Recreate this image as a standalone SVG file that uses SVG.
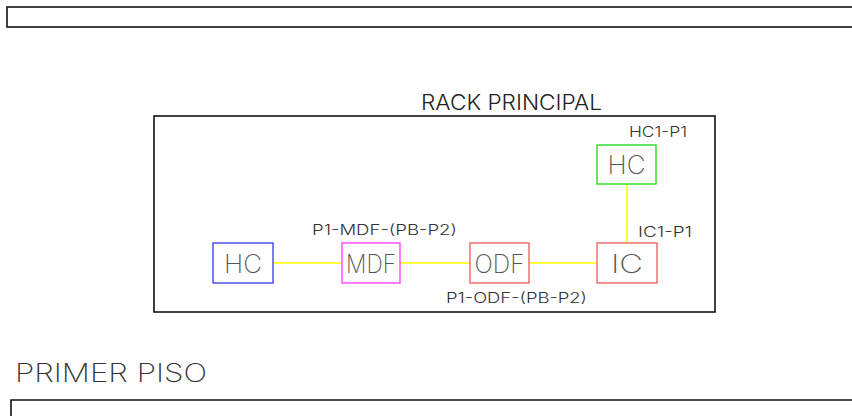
<svg xmlns="http://www.w3.org/2000/svg" width="852" height="416" viewBox="0 0 852 416">
  <style>
    .frame { fill: none; stroke: #111; stroke-width: 1.6; }
    .node { fill: #fff; stroke-width: 1.4; }
    .wire { stroke: #ffff00; stroke-width: 1.6; fill: none; }
    .big { font-family: Inter, "DejaVu Sans", "Liberation Sans", sans-serif; font-weight: 200; font-size: 26px; fill: #555; }
    .tag { font-family: Inter, "DejaVu Sans", "Liberation Sans", sans-serif; font-weight: 300; font-size: 14px; fill: #333; }
    .title { font-family: Inter, "DejaVu Sans", "Liberation Sans", sans-serif; font-weight: 300; font-size: 21px; fill: #222; }
  </style>
  <rect width="852" height="416" fill="#fff"/>

  <!-- sheet frames -->
  <rect class="frame" x="7" y="7" width="860" height="20"/>
  <path class="frame" d="M11 420 V400 H860"/>

  <!-- rack enclosure -->
  <g id="rack">
    <rect class="frame" x="154" y="116" width="561" height="196" stroke-width="1.4"/>
    <text class="title" x="421" y="110" textLength="181" lengthAdjust="spacingAndGlyphs">RACK PRINCIPAL</text>
  </g>

  <!-- connectors -->
  <g id="connectors">
    <line class="wire" x1="273" y1="263" x2="342" y2="263"/>
    <line class="wire" x1="400" y1="263" x2="470" y2="263"/>
    <line class="wire" x1="529" y1="263" x2="597" y2="263"/>
    <line class="wire" x1="627" y1="184" x2="627" y2="243"/>
  </g>

  <g id="hc-floor">
    <rect class="node" x="213" y="243" width="60" height="40" stroke="#4444ee"/>
    <text class="big" x="243" y="273" text-anchor="middle" textLength="38" lengthAdjust="spacingAndGlyphs">HC</text>
  </g>

  <g id="mdf">
    <rect class="node" x="342" y="243" width="58" height="40" stroke="#ff44ff"/>
    <text class="big" x="371" y="273" text-anchor="middle" textLength="50" lengthAdjust="spacingAndGlyphs">MDF</text>
    <text class="tag" x="312" y="235" textLength="145" lengthAdjust="spacingAndGlyphs">P1-MDF-(PB-P2)</text>
  </g>

  <g id="odf">
    <rect class="node" x="470" y="243" width="59" height="40" stroke="#ee6666"/>
    <text class="big" x="499.5" y="273" text-anchor="middle" textLength="50" lengthAdjust="spacingAndGlyphs">ODF</text>
    <text class="tag" x="446" y="303" textLength="141" lengthAdjust="spacingAndGlyphs">P1-ODF-(PB-P2)</text>
  </g>

  <g id="ic">
    <rect class="node" x="597" y="243" width="60" height="40" stroke="#ee6666"/>
    <text class="big" x="627" y="273" text-anchor="middle" textLength="32" lengthAdjust="spacingAndGlyphs">IC</text>
    <text class="tag" x="638" y="237" textLength="54" lengthAdjust="spacingAndGlyphs">IC1-P1</text>
  </g>

  <g id="hc-rack">
    <rect class="node" x="597" y="145" width="59" height="39" stroke="#22dd22" stroke-width="1.8"/>
    <text class="big" x="626.5" y="174" text-anchor="middle" textLength="38" lengthAdjust="spacingAndGlyphs">HC</text>
    <text class="tag" x="629" y="137" textLength="58" lengthAdjust="spacingAndGlyphs">HC1-P1</text>
  </g>

  <text class="big" x="15" y="382" style="fill:#333" textLength="192" lengthAdjust="spacingAndGlyphs">PRIMER PISO</text>
</svg>
